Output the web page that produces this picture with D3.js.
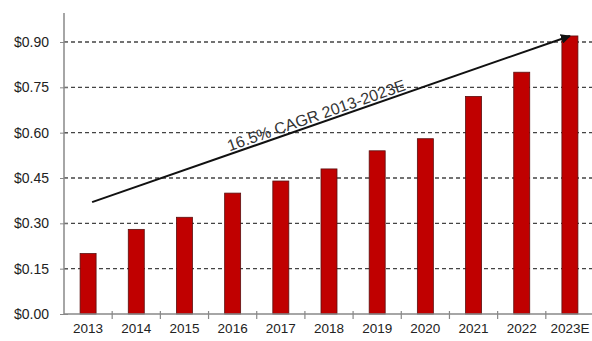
<!DOCTYPE html>
<html>
<head>
<meta charset="utf-8">
<script src="https://cdn.jsdelivr.net/npm/d3@7"></script>
<style>
  body { margin: 0; background: #fff; }
  svg text { font-family: "Liberation Sans", Arial, sans-serif; }
</style>
</head>
<body>
<div id="chart"></div>
<script>
var years = ['2013', '2014', '2015', '2016', '2017', '2018', '2019', '2020', '2021', '2022', '2023E'];
var values = [0.20, 0.28, 0.32, 0.40, 0.44, 0.48, 0.54, 0.58, 0.72, 0.80, 0.92];
var yTicks = [0, 0.15, 0.30, 0.45, 0.60, 0.75, 0.90];
var cagrLabel = '16.5% CAGR 2013-2023E';
var cagrFrom = { year: '2013', value: 0.37 };
var cagrTo = { year: '2023E', value: 0.92 };

var width = 592, height = 341;
var margin = { top: 13, right: -2, bottom: 27, left: 64 };

var svg = d3.select('#chart').append('svg')
    .attr('width', width)
    .attr('height', height);

var x = d3.scaleBand()
    .domain(years)
    .range([margin.left, width - margin.right]);

var y = d3.scaleLinear()
    .domain([0, 0.90])
    .range([height - margin.bottom, 42]);

var baseY = y(0);

// grid lines
svg.append('g').selectAll('line')
    .data(yTicks.filter(function (d) { return d > 0; }))
    .enter().append('line')
    .attr('x1', margin.left).attr('x2', width)
    .attr('y1', function (d) { return y(d); })
    .attr('y2', function (d) { return y(d); })
    .attr('stroke', '#444')
    .attr('stroke-width', 1.3)
    .attr('stroke-dasharray', '4,3');

// bars
svg.append('g').selectAll('rect')
    .data(values)
    .enter().append('rect')
    .attr('x', function (d, i) { return x(years[i]) + x.bandwidth() / 2 - 8; })
    .attr('y', function (d) { return y(d); })
    .attr('width', 16)
    .attr('height', function (d) { return baseY - y(d); })
    .attr('fill', '#c00000')
    .attr('stroke', '#5a1010')
    .attr('stroke-width', 0.8);

// y axis
var yAxis = d3.axisLeft(y)
    .tickValues(yTicks)
    .tickFormat(function (d) { return '$' + d3.format('.2f')(d); })
    .tickSize(4)
    .tickPadding(11);

var yg = svg.append('g')
    .attr('transform', 'translate(' + margin.left + ',0)')
    .call(yAxis);
yg.select('.domain').remove();
yg.selectAll('.tick line').attr('x2', 4).attr('x1', -4).attr('stroke', '#888');
yg.selectAll('text').attr('font-size', 14).attr('fill', '#222');

svg.append('line')
    .attr('x1', margin.left).attr('x2', margin.left)
    .attr('y1', margin.top).attr('y2', baseY)
    .attr('stroke', '#888').attr('stroke-width', 1.5);

// x axis
svg.append('line')
    .attr('x1', margin.left).attr('x2', width)
    .attr('y1', baseY).attr('y2', baseY)
    .attr('stroke', '#888').attr('stroke-width', 1.5);

svg.append('g').selectAll('line')
    .data(years.slice(1))
    .enter().append('line')
    .attr('x1', function (d) { return x(d); })
    .attr('x2', function (d) { return x(d); })
    .attr('y1', baseY - 3).attr('y2', baseY + 5)
    .attr('stroke', '#888').attr('stroke-width', 1.2);

svg.append('g').selectAll('text')
    .data(years)
    .enter().append('text')
    .attr('x', function (d) { return x(d) + x.bandwidth() / 2; })
    .attr('y', baseY + 19)
    .attr('text-anchor', 'middle')
    .attr('font-size', 13.5)
    .attr('fill', '#222')
    .text(function (d) { return d; });

// CAGR arrow
svg.append('defs').append('marker')
    .attr('id', 'arrow')
    .attr('viewBox', '0 0 10 10')
    .attr('refX', 9).attr('refY', 5)
    .attr('markerWidth', 5).attr('markerHeight', 5)
    .attr('orient', 'auto')
    .append('path')
    .attr('d', 'M0,0 L10,5 L0,10 z')
    .attr('fill', '#111');

var ax1 = x(cagrFrom.year) + x.bandwidth() / 2 + 4, ay1 = y(cagrFrom.value);
var ax2 = x(cagrTo.year) + x.bandwidth() / 2, ay2 = y(cagrTo.value);

svg.append('line')
    .attr('x1', ax1).attr('y1', ay1)
    .attr('x2', ax2).attr('y2', ay2)
    .attr('stroke', '#111')
    .attr('stroke-width', 2)
    .attr('marker-end', 'url(#arrow)');

var angle = Math.atan2(ay2 - ay1, ax2 - ax1) * 180 / Math.PI;
var tx = 318;
var ty = ay1 + (tx - ax1) * (ay2 - ay1) / (ax2 - ax1) - 3;
svg.append('text')
    .attr('transform', 'translate(' + tx + ',' + ty + ') rotate(' + angle + ')')
    .attr('text-anchor', 'middle')
    .attr('font-size', 16)
    .attr('fill', '#333')
    .text(cagrLabel);
</script>
</body>
</html>
